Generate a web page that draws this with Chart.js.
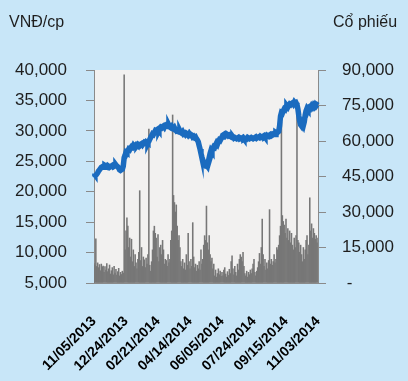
<!DOCTYPE html>
<html>
<head>
<meta charset="utf-8">
<script src="https://cdn.jsdelivr.net/npm/chart.js@4.4.0/dist/chart.umd.min.js"></script>
<style>
  body { margin: 0; background: #c8e6f8; }
  #wrap { position: relative; width: 408px; height: 381px; }
  .axisTitle { position: absolute; top: 13px; font: 16px "Liberation Sans", Arial, sans-serif; color: #1e1e1e; }
</style>
</head>
<body>
<div id="wrap">
  <canvas id="priceChart" width="408" height="381"></canvas>
  <span class="axisTitle" style="left:9px">VNĐ/cp</span>
  <span class="axisTitle" style="left:333px">Cổ phiếu</span>
</div>
<script>
// tick labels on the date axis, one every 35 sessions
var tickLabels = ['11/05/2013', '12/24/2013', '02/21/2014', '04/14/2014', '06/05/2014', '07/24/2014', '09/15/2014', '11/03/2014'];
var tickEvery = 35;

// closing price, VND per share (left axis)
var price = [
  23000, 22800, 22700, 22900, 23100, 23400, 23600, 23800, 24000, 24100,
  24200, 24000, 24300, 24200, 24100, 24300, 24200, 24000, 24100, 24200,
  24300, 24100, 24200, 24300, 24400, 24200, 24100, 23900, 23600, 23500,
  23600, 23700, 24200, 25600, 26000, 26500, 26400, 26700, 27000, 26900,
  27200, 27400, 27300, 27600, 27400, 27500, 27700, 27600, 27800, 27700,
  27600, 27800, 27900, 27700, 27900, 28100, 28000, 28200, 28100, 28000,
  28300, 28600, 28900, 29200, 29500, 29400, 29700, 30000, 29900, 30200,
  30300, 30100, 30400, 30600, 30500, 30700, 30800, 30600, 30900, 31000,
  30800, 30700, 30900, 30600, 30500, 30700, 30400, 30300, 30500, 30200,
  30000, 30100, 29900, 29800, 30000, 29700, 29600, 29800, 29500, 29600,
  29400, 29600, 29500, 29300, 29500, 29200, 29400, 29300, 29000, 29100,
  28900, 29000, 28700, 28500, 28200, 27600, 27000, 26300, 25700, 25200,
  24800, 24500, 24300, 24400, 24200, 24900, 25600, 26300, 26800, 26600,
  27100, 27400, 27300, 27700, 28000, 27800, 28200, 28500, 28400, 28700,
  29000, 29300, 29400, 29500, 29300, 29500, 29400, 29200, 29300, 29100,
  29000, 28900, 29000, 28800, 28900, 28800, 28700, 28800, 28900, 28700,
  28800, 28700, 28800, 28900, 28700, 28800, 28800, 28700, 28900, 28800,
  28700, 28800, 28900, 28800, 28700, 28800, 28900, 29000, 28800, 28900,
  29000, 28900, 29100, 29000, 28900, 29100, 29200, 29000, 29100, 29300,
  29200, 29100, 29300, 29400, 29200, 29300, 29500, 29600, 29400, 29700,
  29600, 29800, 29900, 30800, 32400, 33000, 32900, 33300, 33600, 33500,
  33900, 34100, 33900, 34200, 34400, 34300, 34500, 34600, 34400, 34700,
  34500, 34600, 34300, 33600, 32500, 31600, 31000, 30800, 31200, 30900,
  31500, 32600, 33300, 33700, 33500, 33900, 34000, 33800, 34100, 33900,
  34200, 34000, 34300, 34100, 34300, 34200
];

// traded volume, shares (right axis)
var volume = [
  8200, 7500, 18700, 7000, 8500, 6500, 7800, 5200, 8000, 6800,
  7200, 4500, 6900, 5500, 8200, 4800, 6000, 7600, 3800, 5200,
  6500, 3500, 7000, 4200, 5800, 3300, 4800, 6200, 3000, 4500,
  3600, 5000, 4200, 88000, 14000, 22000, 27500, 24000, 15000, 19000,
  11000, 18500, 9000, 14000, 7000, 12000, 8500, 6000, 10000, 13000,
  39000, 9500, 15000, 7000, 11000, 9800, 6500, 10500, 8000, 12000,
  65000, 7500, 5000, 9000, 14000, 22000, 24000, 21000, 19000, 11000,
  20500, 9000, 15000, 16000, 12000, 18000, 14000, 8000, 10000, 9500,
  7000, 12000, 8500, 10000, 18000, 22000, 71000, 37000, 34000, 30000,
  33000, 24000, 18000, 20000, 15000, 9000, 7000, 10000, 6000, 8500,
  5500, 12000, 7500, 21000, 9000, 6000, 10000, 7000, 25500, 11000,
  6500, 8000, 5000, 7500, 6000, 9000, 5500, 14000, 8000, 10000,
  16000, 20000, 18000, 32500, 17000, 14000, 20000, 12000, 9000, 10500,
  6000, 8000, 3000, 5500, 2500, 4000, 6000, 3500, 5000, 2800,
  4500, 3000, 5500, 6500, 3800, 2500, 4800, 3200, 5800, 4000,
  9000, 11500, 6000, 3500, 7000, 4500, 3000, 8000, 5500, 10000,
  12000, 11000, 9000, 13000, 7000, 4000, 3000, 5000, 2500, 4500,
  3500, 5500, 4000, 6000, 8000, 10000, 4500, 3000, 5000, 6500,
  9000, 12500, 8000, 15000, 27000, 12000, 7000, 10000, 5500, 8500,
  6000, 9500, 31000, 8000, 10000, 7500, 9000, 12000, 8500, 10000,
  15000, 14000, 16000, 20000, 24000, 68000, 28500, 26000, 24500, 21000,
  27000, 19000, 23000, 18000, 22000, 17000, 21000, 16000, 14000, 19000,
  15000, 20000, 74000, 18000, 17000, 13000, 16000, 12000, 9000, 15000,
  10000, 14000, 18000, 20000, 12000, 16000, 36000, 22000, 25000, 19000,
  23000, 21000, 18500, 20000, 17000, 19000
];

var sessions = price.map(function (p, i) { return i; });

var axisGray = '#8a8a8a';
var tickFont = { family: '"Liberation Sans", Arial, sans-serif', size: 17 };

var plotBackground = {
  id: 'plotBackground',
  beforeDraw: function (chart) {
    var a = chart.chartArea, ctx = chart.ctx;
    ctx.save();
    ctx.fillStyle = '#f2f1f0';
    ctx.fillRect(a.left, a.top, a.right - a.left, a.bottom - a.top);
    ctx.restore();
  }
};

new Chart(document.getElementById('priceChart'), {
  type: 'bar',
  data: {
    labels: sessions,
    datasets: [{
      type: 'line',
      label: 'Giá',
      data: price,
      yAxisID: 'yPrice',
      borderColor: '#1a6bbf',
      borderWidth: 5.5,
      pointRadius: 0,
      tension: 0,
      order: 0
    }, {
      label: 'Khối lượng',
      data: volume,
      yAxisID: 'yVolume',
      backgroundColor: '#777777',
      barPercentage: 1,
      categoryPercentage: 1,
      order: 1
    }]
  },
  options: {
    responsive: false,
    animation: false,
    layout: { padding: { top: 70, left: 0, right: 0, bottom: 0 } },
    plugins: { legend: { display: false }, tooltip: { enabled: false } },
    scales: {
      x: {
        offset: false,
        grid: { display: false },
        border: { display: true, color: axisGray },
        ticks: {
          autoSkip: false,
          maxRotation: 45,
          minRotation: 45,
          padding: 22,
          color: '#000',
          font: { family: '"Liberation Sans", Arial, sans-serif', size: 14, weight: 'bold' },
          callback: function (value, index) {
            return index % tickEvery === 0 ? tickLabels[index / tickEvery] : null;
          }
        },
        afterFit: function (s) { s.height = 98; }
      },
      yPrice: {
        position: 'left',
        min: 5000,
        max: 40000,
        grid: { drawOnChartArea: false, color: axisGray, tickLength: 8 },
        border: { display: true, color: axisGray },
        ticks: {
          stepSize: 5000,
          padding: 19,
          color: '#1e1e1e',
          font: tickFont,
          callback: function (v) { return v.toLocaleString('en-US'); }
        },
        afterFit: function (s) { s.width = 94; }
      },
      yVolume: {
        position: 'right',
        min: 0,
        max: 90000,
        grid: { drawOnChartArea: false, color: axisGray, tickLength: 8 },
        border: { display: true, color: axisGray },
        ticks: {
          stepSize: 15000,
          padding: 16,
          color: '#1e1e1e',
          font: tickFont,
          callback: function (v) { return v === 0 ? ' -' : v.toLocaleString('en-US'); }
        },
        afterFit: function (s) { s.width = 90; }
      }
    }
  },
  plugins: [plotBackground]
});
</script>
</body>
</html>
